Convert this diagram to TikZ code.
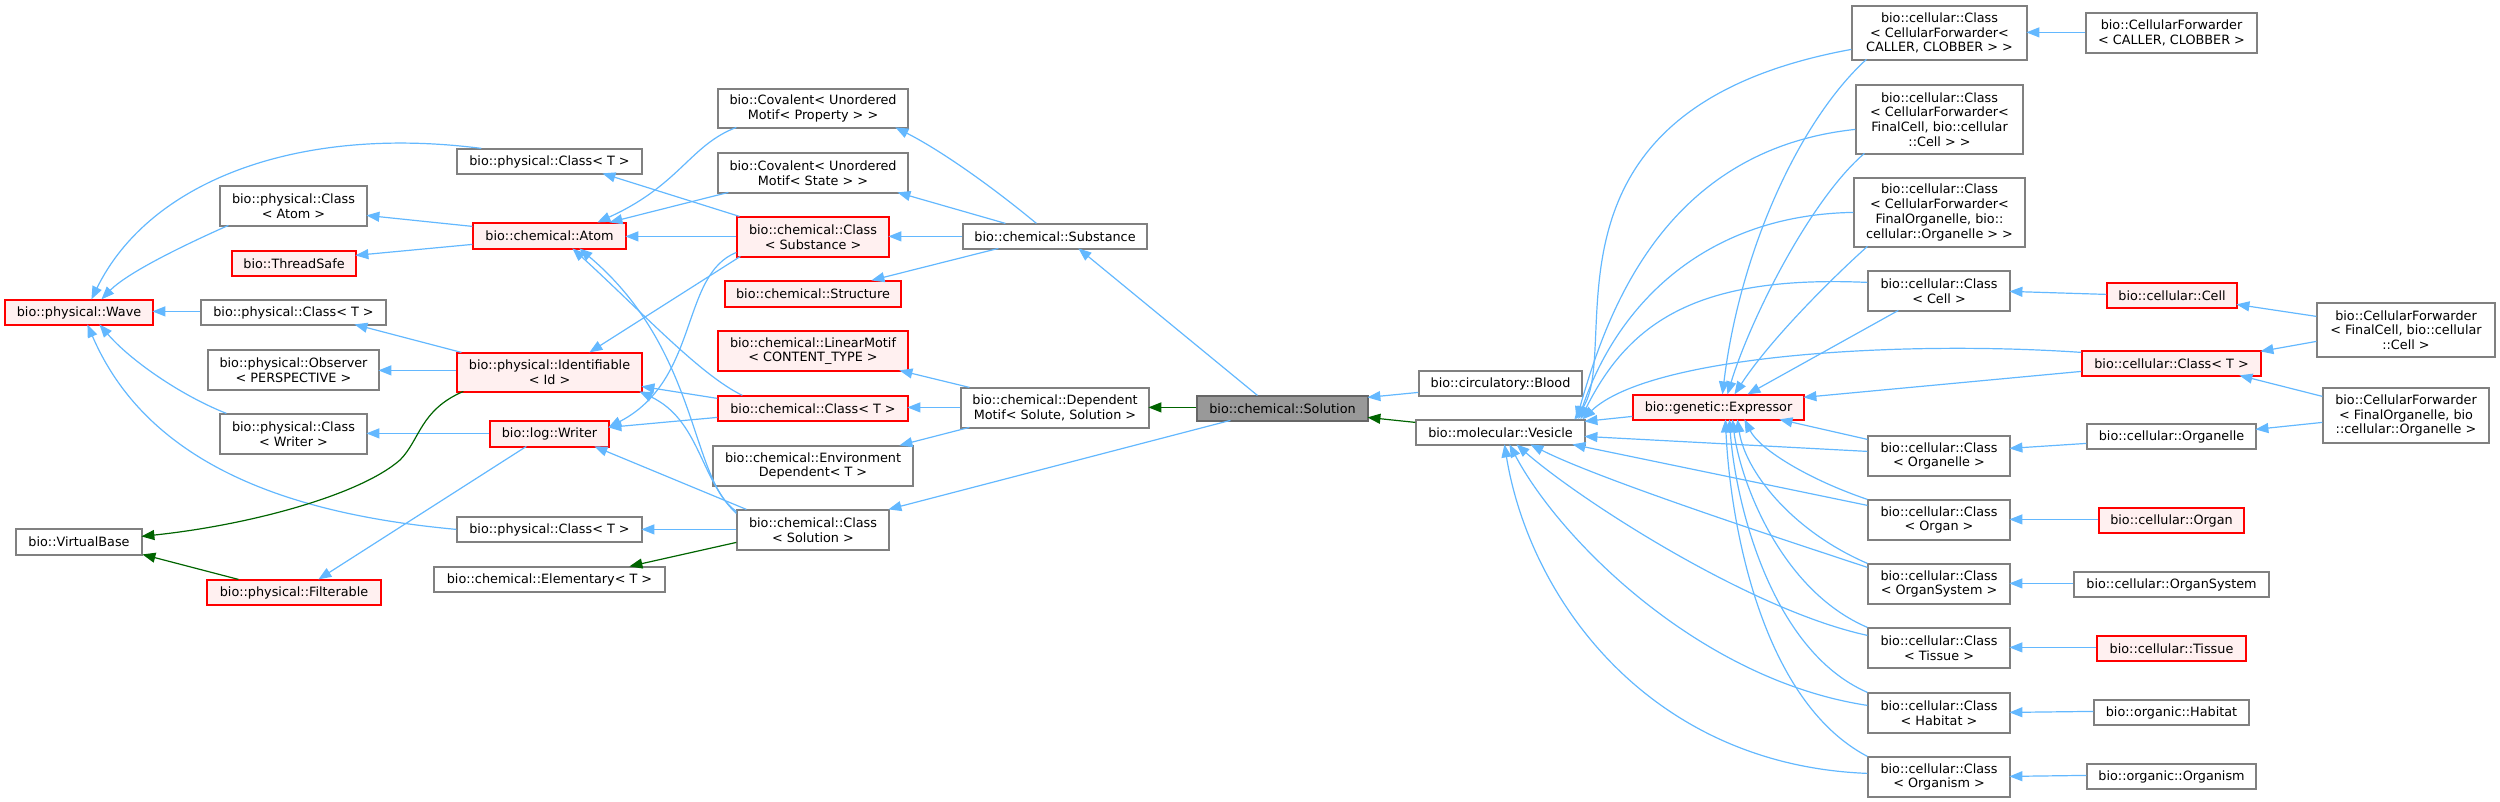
\documentclass[tikz,border=0pt]{standalone}
\usepackage{fontspec}
\setmainfont{DejaVu Sans}
\usetikzlibrary{arrows.meta,calc}
\definecolor{edgeblue}{HTML}{63B8FF}
\definecolor{edgegreen}{HTML}{006400}
\definecolor{bordergray}{HTML}{808080}
\definecolor{pinkfill}{HTML}{FFF0F0}
\definecolor{curfill}{HTML}{999999}
\definecolor{curborder}{HTML}{666666}
\newcommand\NW[3]{($(#1.north west)+(#2,#3)$)}
\newcommand\nd[7]{\node[#6, minimum width={(#4)-(#2)}, minimum height={(#5)-(#3)}] (#1) at ({((#2)+(#4))/2},{((#3)+(#5))/2}) {#7};}
\tikzset{
  box/.style={draw=bordergray, fill=white, line width=1.2pt, inner sep=0pt, align=center,
    font={\fontsize{12.8}{14.7}\selectfont}},
  rbox/.style={box, draw=red, fill=pinkfill},
  cbox/.style={box, draw=curborder, fill=curfill},
  inh/.style={draw=edgeblue, line width=1.2pt, -{Triangle[length=13pt,width=10pt]}},
  prot/.style={draw=edgegreen, line width=1.2pt, -{Triangle[length=13pt,width=10pt]}}
}
\begin{document}
\begin{tikzpicture}[x=1pt,y=-1pt]
\useasboundingbox (0,0) rectangle (2500,802);
% ---- nodes, left
\nd{wave}{5}{300}{153}{325}{rbox}{bio::physical::Wave}
\nd{pcTtop}{457}{149}{642}{174}{box}{bio::physical::Class< T >}
\nd{pcAtom}{220}{186}{367}{226}{box}{bio::physical::Class\\< Atom >}
\nd{tsafe}{232}{251}{356}{276}{rbox}{bio::ThreadSafe}
\nd{pcTmid}{201}{300}{386}{325}{box}{bio::physical::Class< T >}
\nd{observer}{208}{350}{379}{390}{box}{bio::physical::Observer\\< PERSPECTIVE >}
\nd{atom}{473}{223}{626}{249}{rbox}{bio::chemical::Atom}
\nd{ident}{457}{353}{642}{392}{rbox}{bio::physical::Identifiable\\< Id >}
\nd{pcWriter}{220}{414}{367}{454}{box}{bio::physical::Class\\< Writer >}
\nd{writer}{490}{421}{609}{447}{rbox}{bio::log::Writer}
\nd{vbase}{16}{529}{142}{555}{box}{bio::VirtualBase}
\nd{filter}{207}{580}{381}{605}{rbox}{bio::physical::Filterable}
\nd{pcTlow}{457}{517}{642}{542}{box}{bio::physical::Class< T >}
\nd{elem}{434}{567}{665}{592}{box}{bio::chemical::Elementary< T >}
% ---- nodes, middle
\nd{covProp}{718}{89}{908}{128}{box}{bio::Covalent< Unordered\\Motif< Property > >}
\nd{covState}{718}{153}{908}{193}{box}{bio::Covalent< Unordered\\Motif< State > >}
\nd{ccSub}{737}{217}{889}{257}{rbox}{bio::chemical::Class\\< Substance >}
\nd{substance}{963}{224}{1147}{249}{box}{bio::chemical::Substance}
\nd{structure}{725}{281}{901}{307}{rbox}{bio::chemical::Structure}
\nd{linmotif}{718}{331}{908}{371}{rbox}{bio::chemical::LinearMotif\\< CONTENT\_TYPE >}
\nd{ccT}{718}{396}{908}{421}{rbox}{bio::chemical::Class< T >}
\nd{dependent}{961}{388}{1149}{428}{box}{bio::chemical::Dependent\\Motif< Solute, Solution >}
\nd{envdep}{713}{446}{913}{486}{box}{bio::chemical::Environment\\Dependent< T >}
\nd{ccSol}{737}{510}{889}{550}{box}{bio::chemical::Class\\< Solution >}
\nd{solution}{1197}{396}{1368}{421}{cbox}{bio::chemical::Solution}
% ---- nodes, right
\nd{blood}{1419}{371}{1582}{396}{box}{bio::circulatory::Blood}
\nd{vesicle}{1416}{420}{1585}{445}{box}{bio::molecular::Vesicle}
\nd{expressor}{1633}{395}{1804}{420}{rbox}{bio::genetic::Expressor}
\nd{cfCaller}{1852}{6}{2027}{60}{box}{bio::cellular::Class\\< CellularForwarder<\\CALLER, CLOBBER > >}
\nd{cfCell}{1856}{85}{2023}{154}{box}{bio::cellular::Class\\< CellularForwarder<\\FinalCell, bio::cellular\\::Cell > >}
\nd{cfOrg}{1854}{178}{2025}{247}{box}{bio::cellular::Class\\< CellularForwarder<\\FinalOrganelle, bio::\\cellular::Organelle > >}
\nd{ccCell}{1868}{271}{2010}{311}{box}{bio::cellular::Class\\< Cell >}
\nd{cellT}{2082}{351}{2261}{376}{rbox}{bio::cellular::Class< T >}
\nd{ccOrganelle}{1868}{436}{2010}{476}{box}{bio::cellular::Class\\< Organelle >}
\nd{ccOrgan}{1868}{500}{2010}{540}{box}{bio::cellular::Class\\< Organ >}
\nd{ccOrgSys}{1868}{564}{2010}{604}{box}{bio::cellular::Class\\< OrganSystem >}
\nd{ccTissue}{1868}{628}{2010}{668}{box}{bio::cellular::Class\\< Tissue >}
\nd{ccHabitat}{1868}{693}{2010}{733}{box}{bio::cellular::Class\\< Habitat >}
\nd{ccOrganism}{1868}{757}{2010}{797}{box}{bio::cellular::Class\\< Organism >}
\nd{fwdCaller}{2086}{13}{2257}{53}{box}{bio::CellularForwarder\\< CALLER, CLOBBER >}
\nd{cell}{2107}{283}{2237}{308}{rbox}{bio::cellular::Cell}
\nd{fwdCell}{2317}{303}{2495}{357}{box}{bio::CellularForwarder\\< FinalCell, bio::cellular\\::Cell >}
\nd{fwdOrg}{2323}{388}{2489}{443}{box}{bio::CellularForwarder\\< FinalOrganelle, bio\\::cellular::Organelle >}
\nd{organelle}{2087}{424}{2256}{449}{box}{bio::cellular::Organelle}
\nd{organ}{2099}{508}{2244}{533}{rbox}{bio::cellular::Organ}
\nd{orgsys}{2074}{572}{2269}{597}{box}{bio::cellular::OrganSystem}
\nd{tissue}{2097}{636}{2246}{661}{rbox}{bio::cellular::Tissue}
\nd{habitat}{2094}{700}{2249}{725}{box}{bio::organic::Habitat}
\nd{organism}{2087}{764}{2256}{789}{box}{bio::organic::Organism}
% ---- edges, left
\draw[inh] \NW{pcTtop}{25}{0} .. controls (300,125) and (150,180) .. \NW{wave}{87}{0};
\draw[inh] \NW{pcAtom}{9}{40} .. controls (200,238) and (130,270) .. \NW{wave}{97}{0};
\draw[inh] \NW{pcTmid}{0}{12} -- \NW{wave}{148}{12};
\draw[inh] \NW{pcWriter}{7}{0} .. controls (180,395) and (130,360) .. \NW{wave}{95}{25};
\draw[inh] \NW{pcTlow}{0}{13} .. controls (300,515) and (150,470) .. \NW{wave}{83}{25};
\draw[inh] \NW{atom}{0}{4} -- \NW{pcAtom}{147}{30};
\draw[inh] \NW{atom}{0}{22} -- \NW{tsafe}{124}{5};
\draw[inh] \NW{ident}{5}{0} -- \NW{pcTmid}{154}{25};
\draw[inh] \NW{ident}{0}{18} -- \NW{observer}{171}{21};
\draw[inh] \NW{writer}{0}{13} -- \NW{pcWriter}{147}{20};
\draw[prot] \NW{ident}{7}{39} .. controls (420,410) and (420,440) .. (400,460) .. controls (360,495) and (250,525) .. \NW{vbase}{126}{8};
\draw[prot] \NW{filter}{32}{0} -- \NW{vbase}{127}{26};
\draw[inh] \NW{writer}{37}{26} -- \NW{filter}{112}{0};
% ---- edges, middle
\draw[inh] \NW{covProp}{19}{39} .. controls (690,145) and (680,185) .. \NW{atom}{125}{0};
\draw[inh] \NW{covState}{11}{40} -- \NW{atom}{137}{0};
\draw[inh] \NW{ccSub}{0}{20} -- \NW{atom}{153}{14};
\draw[inh] \NW{ccSub}{3}{0} -- \NW{pcTtop}{146}{25};
\draw[inh] \NW{ccSub}{0}{36} .. controls (680,275) and (700,380) .. \NW{writer}{119}{7};
\draw[inh] \NW{ccSub}{4}{40} -- \NW{ident}{133}{0};
\draw[inh] \NW{ccT}{0}{3} -- \NW{ident}{185}{34};
\draw[inh] \NW{ccT}{25}{0} .. controls (700,375) and (640,310) .. \NW{atom}{100}{26};
\draw[inh] \NW{ccT}{0}{22} -- \NW{writer}{119}{7};
\draw[inh] \NW{ccSol}{0}{2} .. controls (690,480) and (700,350) .. \NW{atom}{107}{26};
\draw[inh] \NW{ccSol}{0}{4} .. controls (700,480) and (700,420) .. \NW{ident}{183}{39};
\draw[inh] \NW{ccSol}{10}{0} -- \NW{writer}{105}{26};
\draw[inh] \NW{ccSol}{0}{20} -- \NW{pcTlow}{185}{13};
\draw[prot] \NW{ccSol}{0}{33} -- \NW{elem}{196}{0};
\draw[inh] \NW{substance}{0}{13} -- \NW{ccSub}{152}{20};
\draw[inh] \NW{substance}{74}{0} .. controls (990,185) and (940,150) .. \NW{covProp}{178}{39};
\draw[inh] \NW{substance}{43}{0} -- \NW{covState}{180}{40};
\draw[inh] \NW{substance}{36}{25} -- \NW{structure}{147}{0};
\draw[inh] \NW{solution}{61}{0} -- \NW{substance}{116}{25};
\draw[prot] \NW{solution}{0}{12} -- \NW{dependent}{188}{20};
\draw[inh] \NW{solution}{34}{25} -- \NW{ccSol}{152}{0};
\draw[inh] \NW{dependent}{0}{20} -- \NW{ccT}{190}{12};
\draw[inh] \NW{dependent}{9}{0} -- \NW{linmotif}{182}{40};
\draw[inh] \NW{dependent}{9}{40} -- \NW{envdep}{187}{0};
\draw[inh] \NW{blood}{0}{22} -- \NW{solution}{171}{2};
\draw[prot] \NW{vesicle}{0}{3} -- \NW{solution}{171}{22};
\draw[inh] \NW{expressor}{0}{22} -- \NW{vesicle}{169}{2};
% ---- edges to Vesicle
\draw[inh] \NW{cfCaller}{0}{44} .. controls (1520,110) and (1625,350) .. \NW{vesicle}{159}{0};
\draw[inh] \NW{cfCell}{0}{45} .. controls (1660,150) and (1605,320) .. \NW{vesicle}{161}{0};
\draw[inh] \NW{cfOrg}{0}{35} .. controls (1700,215) and (1615,310) .. \NW{vesicle}{163}{0};
\draw[inh] \NW{ccCell}{0}{12} .. controls (1700,275) and (1630,320) .. \NW{vesicle}{165}{0};
\draw[inh] \NW{cellT}{0}{2} .. controls (1900,340) and (1650,355) .. \NW{vesicle}{167}{0};
\draw[inh] \NW{ccOrganelle}{0}{16} -- \NW{vesicle}{169}{17};
\draw[inh] \NW{ccOrgan}{0}{6} -- \NW{vesicle}{157}{25};
\draw[inh] \NW{ccOrgSys}{0}{4} .. controls (1800,545) and (1600,480) .. \NW{vesicle}{115}{25};
\draw[inh] \NW{ccTissue}{0}{8} .. controls (1750,610) and (1580,500) .. \NW{vesicle}{101}{25};
\draw[inh] \NW{ccHabitat}{0}{13} .. controls (1700,680) and (1560,540) .. \NW{vesicle}{94}{25};
\draw[inh] \NW{ccOrganism}{0}{17} .. controls (1650,765) and (1530,600) .. \NW{vesicle}{89}{25};
% ---- edges to Expressor
\draw[inh] \NW{cfCaller}{15}{54} .. controls (1800,120) and (1740,250) .. \NW{expressor}{90}{0};
\draw[inh] \NW{cfCell}{9}{69} .. controls (1810,200) and (1750,320) .. \NW{expressor}{95}{0};
\draw[inh] \NW{cfOrg}{14}{69} .. controls (1830,280) and (1770,340) .. \NW{expressor}{102}{0};
\draw[inh] \NW{ccCell}{31}{40} -- \NW{expressor}{115}{0};
\draw[inh] \NW{cellT}{0}{21} -- \NW{expressor}{171}{3};
\draw[inh] \NW{ccOrganelle}{0}{4} -- \NW{expressor}{147}{25};
\draw[inh] \NW{ccOrgan}{0}{0} .. controls (1810,480) and (1760,450) .. \NW{expressor}{112}{25};
\draw[inh] \NW{ccOrgSys}{0}{0} .. controls (1790,530) and (1745,470) .. \NW{expressor}{105}{25};
\draw[inh] \NW{ccTissue}{0}{0} .. controls (1780,590) and (1740,480) .. \NW{expressor}{100}{25};
\draw[inh] \NW{ccHabitat}{0}{0} .. controls (1770,650) and (1735,500) .. \NW{expressor}{97}{25};
\draw[inh] \NW{ccOrganism}{0}{0} .. controls (1760,700) and (1730,520) .. \NW{expressor}{93}{25};
% ---- edges, far right
\draw[inh] \NW{fwdCaller}{0}{20} -- \NW{cfCaller}{175}{27};
\draw[inh] \NW{cell}{0}{12} -- \NW{ccCell}{142}{21};
\draw[inh] \NW{fwdCell}{0}{14} -- \NW{cell}{130}{22};
\draw[inh] \NW{fwdCell}{0}{39} -- \NW{cellT}{179}{1};
\draw[inh] \NW{fwdOrg}{0}{9} -- \NW{cellT}{158}{25};
\draw[inh] \NW{fwdOrg}{0}{35} -- \NW{organelle}{169}{6};
\draw[inh] \NW{organelle}{0}{20} -- \NW{ccOrganelle}{142}{13};
\draw[inh] \NW{organ}{0}{12} -- \NW{ccOrgan}{142}{20};
\draw[inh] \NW{orgsys}{0}{12} -- \NW{ccOrgSys}{142}{20};
\draw[inh] \NW{tissue}{0}{12} -- \NW{ccTissue}{142}{20};
\draw[inh] \NW{habitat}{0}{12} -- \NW{ccHabitat}{142}{20};
\draw[inh] \NW{organism}{0}{12} -- \NW{ccOrganism}{142}{20};
\end{tikzpicture}
\end{document}
